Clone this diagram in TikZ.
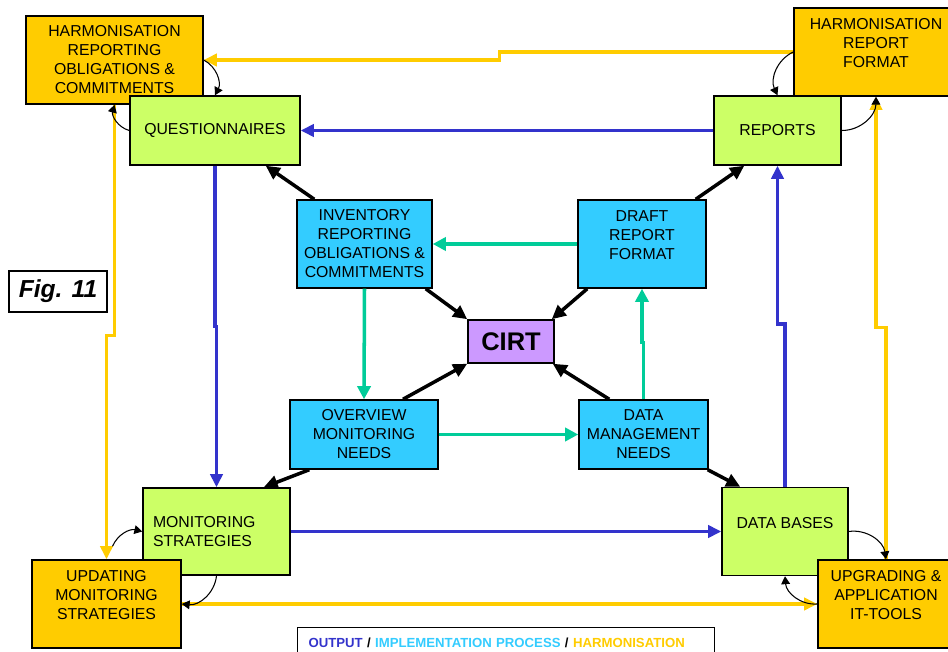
\documentclass[tikz,border=0pt]{standalone}
\usepackage{fontspec}
\setmainfont{Liberation Sans}
\usepackage{xcolor}
\usepackage{tikz}
\usetikzlibrary{arrows.meta,calc}
\definecolor{HarmFill}{HTML}{FFCC00}
\definecolor{OutFill}{HTML}{CCFF66}
\definecolor{ImplFill}{HTML}{33CCFF}
\definecolor{CirtFill}{HTML}{CC99FF}
\definecolor{OutBlue}{HTML}{3333CC}
\definecolor{ImplGreen}{HTML}{00CC99}
\newcommand{\txtgap}{\rule[-10pt]{0pt}{0pt}}
\tikzset{
  box/.style={draw=black, line width=0.85pt, align=center, inner sep=3pt,
              font=\fontsize{9}{10.8}\selectfont},
  harmbox/.style={box, fill=HarmFill},
  outbox/.style={box, fill=OutFill},
  implbox/.style={box, fill=ImplFill},
  blk/.style={draw=black, line width=2pt, -{Triangle[length=8pt,width=7.5pt]}},
  outarr/.style={draw=OutBlue, line width=2pt, -{Triangle[length=7.5pt,width=7pt]}},
  implarr/.style={draw=ImplGreen, line width=2pt, -{Triangle[length=7.5pt,width=7.5pt]}},
  harmarr/.style={draw=HarmFill, line width=1.8pt, -{Triangle[length=7.5pt,width=7pt]}},
  smallarr/.style={draw=black, line width=0.6pt, -{Triangle[length=4.5pt,width=5pt]}}
}
\begin{document}
\begin{tikzpicture}[x=0.02cm, y=-0.02cm]
  \useasboundingbox[fill=white] (0,0) rectangle (948,652);

  \node[harmbox, minimum width=3.54cm, minimum height=1.76cm] (hroc) at (114.5,60)
    {HARMONISATION\\REPORTING\\OBLIGATIONS \&\\COMMITMENTS};
  \node[outbox, minimum width=3.4cm, minimum height=1.38cm] (q) at (215,130.5) {QUESTIONNAIRES};
  \node[harmbox, minimum width=3.28cm, minimum height=1.76cm] (hrf) at (876,52)
    {HARMONISATION\\REPORT\\FORMAT\txtgap};
  \node[outbox, minimum width=2.54cm, minimum height=1.38cm] (rep) at (777.5,130.5) {REPORTS};

  \node[implbox, minimum width=2.7cm, minimum height=1.76cm] (inv) at (364.5,244)
    {INVENTORY\\REPORTING\\OBLIGATIONS \&\\COMMITMENTS};
  \node[implbox, minimum width=2.56cm, minimum height=1.76cm] (draft) at (642,244)
    {DRAFT\\REPORT\\FORMAT\txtgap};
  \node[box, fill=CirtFill, minimum width=1.72cm, minimum height=0.86cm,
        font=\bfseries\fontsize{14.5}{16}\selectfont] (cirt) at (511,341.5) {CIRT};
  \node[implbox, minimum width=2.96cm, minimum height=1.38cm] (ov) at (364,434.5)
    {OVERVIEW\\MONITORING\\NEEDS};
  \node[implbox, minimum width=2.58cm, minimum height=1.38cm] (dmn) at (643.5,434.5)
    {DATA\\MANAGEMENT\\NEEDS};

  \node[outbox, align=left, inner xsep=0.2cm, text width=2.54cm,
        minimum height=1.74cm] (ms) at (216.5,531.5) {MONITORING\\STRATEGIES};
  \node[outbox, minimum width=2.52cm, minimum height=1.76cm] (db) at (785,531.5)
    {DATA BASES\txtgap};
  \node[harmbox, minimum width=2.98cm, minimum height=1.76cm] (ums) at (106.5,604)
    {UPDATING\\MONITORING\\STRATEGIES\txtgap};
  \node[harmbox, minimum width=2.72cm, minimum height=1.76cm] (uait) at (886,604)
    {UPGRADING \&\\APPLICATION\\IT-TOOLS\txtgap};

  \node[draw=black, line width=0.6pt, fill=white, minimum width=1.96cm, minimum height=0.82cm,
        font=\bfseries\itshape\fontsize{14}{16}\selectfont] (fig) at (58,291.5) {Fig. 11};
  \node[draw=black, line width=0.6pt, fill=white, anchor=north west, align=left,
        inner xsep=0.22cm, text width=7.9cm, minimum height=0.6cm,
        font=\bfseries\fontsize{7.5}{9}\selectfont] (legend) at (297,627)
    {\textcolor{OutBlue}{OUTPUT} / \textcolor{ImplFill}{IMPLEMENTATION PROCESS} / \textcolor{HarmFill}{HARMONISATION}};

  \draw[blk] ($(inv.south east)+(-7,0)$) -- (cirt.north west);
  \draw[blk] ($(draft.south west)+(10,0)$) -- ($(cirt.north east)+(-3,0)$);
  \draw[blk] ($(ov.north)+(39,0)$) -- (cirt.south west);
  \draw[blk] ($(dmn.north west)+(31,0)$) -- ($(cirt.south east)+(-2,0)$);
  \draw[blk] ($(inv.north west)+(18,0)$) -- ($(q.south east)+(-35,0)$);
  \draw[blk] ($(draft.north east)+(-11,0)$) -- ($(rep.south west)+(31,0)$);
  \draw[blk] ($(ov.south west)+(20,0)$) -- ($(ms.north east)+(-27,0)$);
  \draw[blk] ($(dmn.south east)+(-1,0)$) -- ($(db.north west)+(19,0)$);

  \draw[outarr] (rep.west) -- (q.east);
  \draw[outarr] (q.south) -- ++(0,161) -| (ms.north);
  \draw[outarr] (ms.east) -- (db.west);
  \draw[outarr] (db.north) -- ++(0,-163) -| (rep.south);

  \draw[implarr] (draft.west) -- (inv.east);
  \draw[implarr] (inv.south) -- (ov.north);
  \draw[implarr] (ov.east) -- (dmn.west);
  \draw[implarr] (dmn.north) -- ++(0,-57) -| (draft.south);

  \draw[harmarr] (hrf.west) -- ++(-294,0) |- (hroc.east);
  \draw[harmarr] (hroc.south) -- ++(0,231) -| (ums.north);
  \draw[harmarr] (uait.north) -- ++(0,-232) -| (hrf.south);
  \draw[harmarr] (ums.east) -- (uait.west);

  \draw[smallarr] (hroc.east) to[bend left=45] (q.north);
  \draw[smallarr] (q.west) to[bend left=45] (hroc.south);
  \draw[smallarr] (hrf.west) to[bend right=45] (rep.north);
  \draw[smallarr] (rep.east) to[bend right=45] (hrf.south);
  \draw[smallarr] ($(ums.north)+(6,-13)$) to[bend left=40] (ms.west);
  \draw[smallarr] (ms.south) to[bend left=45] (ums.east);
  \draw[smallarr] (db.east) to[bend left=45] (uait.north);
  \draw[smallarr] (uait.west) to[bend left=45] (db.south);
\end{tikzpicture}
\end{document}
